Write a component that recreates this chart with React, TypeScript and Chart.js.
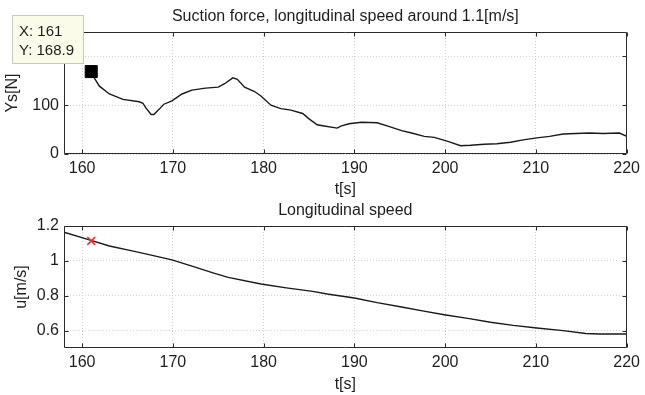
import React, { useEffect, useRef } from 'react';
import { Chart, registerables } from 'chart.js';

Chart.register(...registerables);

const FONT = '"Liberation Sans", Arial, Helvetica, sans-serif';

// ---- data ----
const forceTime = [161, 161.4, 161.9, 163.0, 164.5, 166.3, 166.7, 167.0, 167.6, 167.9, 168.5, 169.0, 169.9, 171.0, 172.1, 173.6, 175.0, 175.7, 176.6, 177.1, 177.9, 179.0, 179.7, 180.8, 181.9, 183.0, 184.3, 185.0, 185.9, 186.5, 188.1, 188.5, 189.4, 190.8, 192.5, 193.7, 195.2, 196.3, 197.7, 198.8, 200.3, 201.7, 202.8, 204.3, 205.7, 207.2, 208.6, 210.1, 211.5, 213.0, 214.4, 215.9, 217.4, 219.2, 219.9, 220];
const forceYs = [168.9, 154, 139, 123, 112, 107, 104, 95, 81, 81, 92, 102, 109, 123, 131, 135, 137, 144, 156, 153, 137, 128, 119, 100, 93, 90, 83, 72, 60, 58, 53, 57, 62, 65, 64, 57, 48, 43, 36, 34, 26, 17, 18, 20, 21, 24, 29, 33, 36, 41, 42, 43, 42, 43, 37, 36];

const speedTime = [158, 160.8, 163, 165.5, 167, 169.9, 172.8, 174.5, 176.1, 179.7, 182.5, 185.4, 187.0, 190.0, 192.5, 195.2, 197.5, 199.9, 202.5, 205.0, 207.5, 210.1, 213.0, 215.5, 217, 220];
const speedU = [1.164, 1.12, 1.085, 1.057, 1.04, 1.006, 0.958, 0.93, 0.905, 0.867, 0.845, 0.825, 0.81, 0.787, 0.76, 0.735, 0.713, 0.691, 0.67, 0.648, 0.63, 0.615, 0.6, 0.583, 0.58, 0.58];

const timeTicks = [160, 170, 180, 190, 200, 210, 220];
const forceTicks = [0, 100, 200];
const speedTicks = [0.6, 0.8, 1, 1.2];

const tipTime = 161;
const tipForce = 168.9;
const tipSpeed = 1.114;

const title1 = 'Suction force, longitudinal speed around 1.1[m/s]';
const title2 = 'Longitudinal speed';

const TEXT = '#1e1e1e';

function framePlugin(title: string, baseline: number, withTip: boolean) {
  return {
    id: 'frame',
    afterDatasetsDraw(chart: any) {
      const { ctx, chartArea: a, scales } = chart;
      const x = scales.x, y = scales.y;
      const L = Math.round(a.left) + 0.5;
      const R = Math.round(a.right) - 0.5;
      const T = Math.round(a.top) + 0.5;
      const B = Math.round(a.bottom) - 0.5;
      ctx.save();
      ctx.strokeStyle = '#2a2a2a';
      ctx.lineWidth = 1;
      ctx.beginPath();
      ctx.rect(L, T, R - L, B - T);
      const tl = 4;
      x.ticks.forEach((t: any) => {
        const px = Math.round(x.getPixelForValue(t.value)) + 0.5;
        ctx.moveTo(px, B); ctx.lineTo(px, B - tl);
        ctx.moveTo(px, T); ctx.lineTo(px, T + tl);
      });
      y.ticks.forEach((t: any) => {
        const py = Math.round(y.getPixelForValue(t.value)) + 0.5;
        ctx.moveTo(L, py); ctx.lineTo(L + tl, py);
        ctx.moveTo(R, py); ctx.lineTo(R - tl, py);
      });
      ctx.stroke();
      ctx.restore();
    },
    afterDraw(chart: any) {
      const { ctx, chartArea: a } = chart;
      ctx.save();
      ctx.fillStyle = TEXT;
      ctx.font = `16px ${FONT}`;
      ctx.textAlign = 'center';
      ctx.textBaseline = 'alphabetic';
      ctx.fillText(title, (a.left + a.right) / 2, baseline);
      if (withTip) {
        const bx = 12.5, by = 15.5, bw = 71, bh = 48;
        ctx.fillStyle = '#fbfbe9';
        ctx.strokeStyle = '#c9c9bd';
        ctx.lineWidth = 1;
        ctx.fillRect(bx, by, bw, bh);
        ctx.strokeRect(bx, by, bw, bh);
        ctx.fillStyle = TEXT;
        ctx.font = `15px ${FONT}`;
        ctx.textAlign = 'left';
        ctx.textBaseline = 'middle';
        ctx.fillText(`X: ${tipTime}`, 19, 32);
        ctx.fillText(`Y: ${tipForce}`, 19, 51);
      }
      ctx.restore();
    },
  };
}

function makeConfig(p: {
  xs: number[]; ys: number[]; yMin: number; yMax: number; yTicks: number[]; yLabel: string;
  padTop: number; xH: number; yTitlePad: number; xTitlePad: number; marker: any; title: string; baseline: number; tip: boolean;
}) {
  const tickFont = { family: FONT, size: 16 };
  return {
    type: 'line',
    data: {
      datasets: [
        p.marker,
        {
          data: p.xs.map((x, i) => ({ x, y: p.ys[i] })),
          borderColor: '#1a1a1a',
          borderWidth: 1.4,
          pointRadius: 0,
          tension: 0,
          fill: false,
          order: 1,
        },
      ],
    },
    options: {
      responsive: false,
      animation: false,
      devicePixelRatio: 1,
      events: [],
      layout: { padding: { top: p.padTop, right: 13, left: 0, bottom: 0 } },
      plugins: { legend: { display: false }, tooltip: { enabled: false }, title: { display: false } },
      scales: {
        x: {
          type: 'linear',
          min: 158,
          max: 220,
          afterBuildTicks: (s: any) => { s.ticks = timeTicks.map((v) => ({ value: v })); },
          afterFit: (s: any) => { s.height = p.xH; },
          grid: { color: '#d2d2d2', lineWidth: 1, drawTicks: false },
          border: { display: false, dash: [1, 2] },
          ticks: { padding: 5, color: TEXT, font: tickFont, maxRotation: 0, autoSkip: false, callback: (v: any) => String(v) },
          title: { display: true, text: 't[s]', color: TEXT, font: tickFont, padding: { top: 0, bottom: p.xTitlePad } },
        },
        y: {
          type: 'linear',
          min: p.yMin,
          max: p.yMax,
          afterBuildTicks: (s: any) => { s.ticks = p.yTicks.map((v) => ({ value: v })); },
          afterFit: (s: any) => { s.width = 64; },
          grid: { color: '#d2d2d2', lineWidth: 1, drawTicks: false },
          border: { display: false, dash: [1, 2] },
          ticks: { padding: 5, color: TEXT, font: tickFont, autoSkip: false, callback: (v: any) => String(v) },
          title: { display: true, text: p.yLabel, color: TEXT, font: tickFont, padding: { top: p.yTitlePad, bottom: 0 } },
        },
      },
    },
    plugins: [framePlugin(p.title, p.baseline, p.tip)],
  };
}

export default function App() {
  const topRef = useRef<HTMLCanvasElement>(null);
  const botRef = useRef<HTMLCanvasElement>(null);

  useEffect(() => {
    const top = new Chart(topRef.current as HTMLCanvasElement, makeConfig({
      xs: forceTime, ys: forceYs, yMin: 0, yMax: 250, yTicks: forceTicks, yLabel: 'Ys[N]',
      padTop: 32, xH: 45, yTitlePad: 3, xTitlePad: 0,
      marker: {
        data: [{ x: tipTime, y: tipForce }], showLine: false, pointStyle: 'rect', pointRadius: 8.5,
        pointBackgroundColor: '#000', pointBorderColor: '#000', pointBorderWidth: 1, order: 0, clip: false,
      },
      title: title1, baseline: 21, tip: true,
    }) as any);
    const bot = new Chart(botRef.current as HTMLCanvasElement, makeConfig({
      xs: speedTime, ys: speedU, yMin: 0.5, yMax: 1.2, yTicks: speedTicks, yLabel: 'u[m/s]',
      padTop: 29, xH: 47, yTitlePad: 12, xTitlePad: 1,
      marker: {
        data: [{ x: tipTime, y: tipSpeed }], showLine: false, pointStyle: 'crossRot', pointRadius: 5.5,
        pointBorderColor: '#e8302a', pointBackgroundColor: '#e8302a', pointBorderWidth: 1.5, order: 0, clip: false,
      },
      title: title2, baseline: 18, tip: false,
    }) as any);
    return () => { top.destroy(); bot.destroy(); };
  }, []);

  return (
    <div style={{ position: 'absolute', left: 0, top: 0, width: 645, height: 395, background: '#fff' }}>
      <canvas ref={topRef} width={645} height={199} style={{ position: 'absolute', left: 0, top: 0, width: 645, height: 199 }} />
      <canvas ref={botRef} width={645} height={198} style={{ position: 'absolute', left: 0, top: 197, width: 645, height: 198 }} />
    </div>
  );
}
